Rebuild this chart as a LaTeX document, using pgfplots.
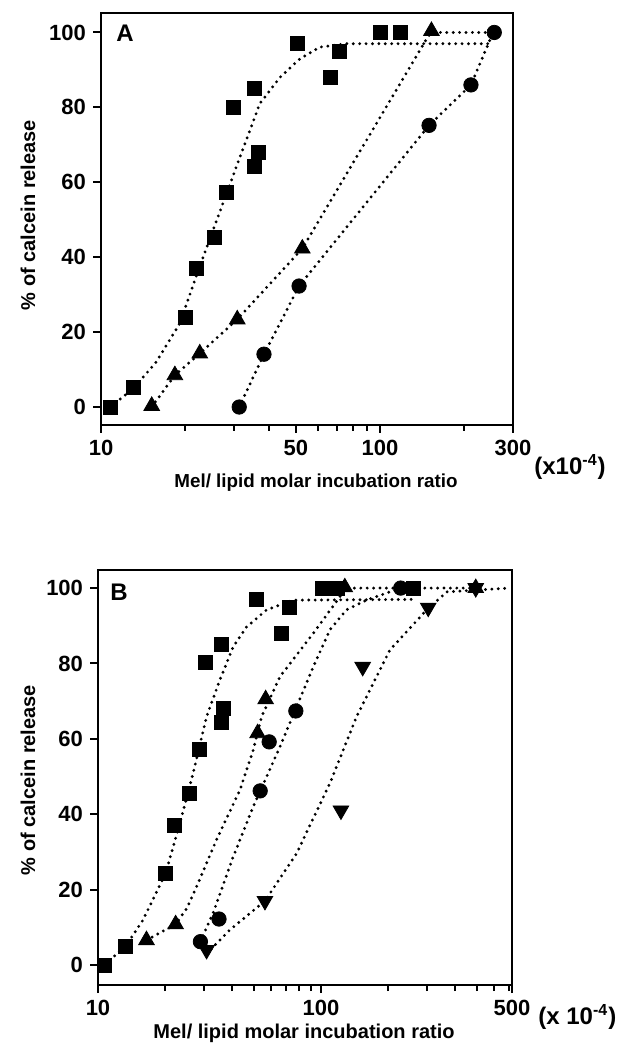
\documentclass[border=0pt]{standalone}
\usepackage{fontspec}
\setmainfont{Liberation Sans}
\usepackage{pgfplots}
\pgfplotsset{compat=1.18}

% shared look of both panels
\pgfplotsset{
  panelstyle/.style={
    scale only axis,
    tick align=outside, tick pos=left,
    major tick length=4pt, minor tick length=3pt,
    axis line style={line width=1.3pt},
    every tick/.append style={black, line width=1pt},
    ytick={0,20,...,100},
    tick label style={font=\fontsize{11}{13}\selectfont\bfseries},
    /pgf/number format/assume math mode=true,
    clip=false,
  },
  fitline/.style={black, line width=1.6pt, line cap=round, dash pattern=on 0pt off 3.2pt, mark=none},
  sq/.style={only marks, mark=square*, mark size=3.5pt, black},
  ci/.style={only marks, mark=*, mark size=3.6pt, black},
  tu/.style={only marks, mark=triangle*, mark size=4.5pt, black},
  td/.style={only marks, mark=triangle*, mark size=4.5pt, black, every mark/.append style={rotate=180}},
}

\begin{document}
\begin{tikzpicture}
\useasboundingbox (0pt,0pt) rectangle (310pt,522.5pt);

% ---- panel A ----
\begin{semilogxaxis}[panelstyle,
  at={(50.5pt,310pt)}, anchor=south west,
  width=206pt, height=206pt,
  xmin=10, xmax=300, ymin=-4.8, ymax=105.2,
  xtick={10,50,100,300}, xticklabels={10,50,100,300},
  minor xtick={20,30,40,60,70,80,90,200},
]
\addplot[fitline] coordinates {(10.8,0) (13.1,5) (15.8,12.1) (19.2,22.4) (21.7,33.9) (24.2,43.6) (30.7,64.5) (37.1,81) (43.8,88) (51.7,93) (61,96.1) (76,97) (250,97)};
\addplot[fitline] coordinates {(15.2,0) (18.4,8.5) (22.6,14.3) (30.8,23.4) (52.7,42.3) (147,98.3) (153,100) (258,100)};
\addplot[fitline] coordinates {(31.3,0) (38.4,14.1) (51.3,32.3) (150,75.2) (212,86) (248,98) (257,100)};
\addplot[sq] coordinates {(10.8,0) (13.1,5.2) (20.0,23.9) (21.9,37.0) (25.5,45.2) (28.2,57.2) (29.8,79.9) (35.4,85) (35.6,64.3) (36.6,68.1) (50.5,97) (66.2,88.1) (71.5,95) (100.8,100) (118,100)};
\addplot[tu] coordinates {(15.2,0.3) (18.4,8.5) (22.6,14.3) (30.8,23.4) (52.7,42.3) (153,100.4)};
\addplot[ci] coordinates {(31.3,0) (38.4,14.1) (51.3,32.3) (150,75.2) (212,86) (257,100)};
\end{semilogxaxis}

% ---- panel B ----
\begin{semilogxaxis}[panelstyle,
  at={(49pt,30pt)}, anchor=south west,
  width=207pt, height=207.5pt,
  xmin=10, xmax=720, ymin=-5.3, ymax=104.8,
  xtick={10,100,720}, xticklabels={10,100,500},
  minor xtick={20,30,40,50,60,70,80,90,200,300,400,500,600,700},
]
\addplot[fitline] coordinates {(11.3,1.3) (13.3,5) (15.9,11.9) (20.1,24.3) (23.3,37.6) (26.7,50.8) (30.7,65.9) (35.2,75.6) (40.4,84.4) (46.4,89.7) (57,94.2) (75,96.8) (260,97)};
\addplot[fitline] coordinates {(16.5,6.6) (22.3,10.8) (25,15) (27.7,20.8) (34,33.2) (43.3,46.4) (49.7,57) (54.2,65.9) (65.5,76.5) (92.4,88) (121.7,97.7) (128,100) (495,100)};
\addplot[fitline] coordinates {(28.8,6.2) (32.8,13.7) (40.4,28.7) (49.7,42) (65.5,57.9) (77.8,68.5) (92.4,79.1) (109.7,88.9) (130,94.2) (160,96.8) (228,100)};
\addplot[fitline] coordinates {(30.7,3) (39,9.3) (56.1,17) (77.8,29.6) (109.7,48.2) (144.6,65.9) (204,83.6) (298,94.2) (367,99) (700,100)};
\addplot[sq] coordinates {(10.7,0) (13.3,5.0) (20.1,24.3) (22.1,37.1) (25.8,45.4) (28.4,57.2) (30.4,80.2) (35.6,85.1) (35.8,64.3) (36.4,68.1) (51.1,97) (66.6,88.1) (72.1,95) (101.8,100) (118,100) (260,100)};
\addplot[tu] coordinates {(16.5,6.6) (22.3,10.8) (52,61.5) (56.5,70.5) (128,100.2) (495,100)};
\addplot[ci] coordinates {(28.8,6.2) (34.9,12.2) (53.4,46.2) (58.6,59.2) (77.2,67.4) (228,100)};
\addplot[td] coordinates {(30.7,4) (56.1,17) (123,41) (154,79.1) (303,94.8) (495,100)};
\end{semilogxaxis}

% labels
\node[font=\fontsize{12}{14}\selectfont\bfseries] at (62.5pt,506pt) {A};
\node[font=\fontsize{12}{14}\selectfont\bfseries] at (59.5pt,226.5pt) {B};
\node[rotate=90, font=\fontsize{10}{12}\selectfont\bfseries] at (14pt,415pt) {\% of calcein release};
\node[rotate=90, font=\fontsize{10}{12}\selectfont\bfseries] at (14pt,132.5pt) {\% of calcein release};
\node[font=\fontsize{9.4}{11}\selectfont\bfseries] at (158pt,281pt) {Mel/ lipid molar incubation ratio};
\node[font=\fontsize{10}{12}\selectfont\bfseries] at (152pt,6pt) {Mel/ lipid molar incubation ratio};
\node[anchor=west, inner sep=0pt, font=\fontsize{12}{14}\selectfont\bfseries] at (267pt,289pt) {(x10\textsuperscript{-4})};
\node[anchor=west, inner sep=0pt, font=\fontsize{12}{14}\selectfont\bfseries] at (269pt,14pt) {(x 10\textsuperscript{-4})};
\end{tikzpicture}
\end{document}
